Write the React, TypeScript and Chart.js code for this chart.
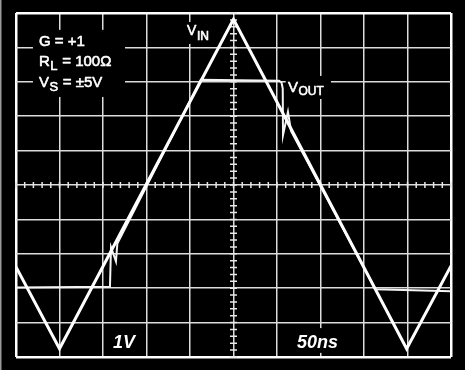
import React, { useEffect, useRef } from "react";
import { Chart, registerables } from "chart.js";

Chart.register(...registerables);

// Axis ranges: 50 ns / div horizontally, 1 V / div vertically
const TIME_MIN = 0;
const TIME_MAX = 500;
const TIME_STEP = 50;
const VOLT_MIN = -5;
const VOLT_MAX = 5;
const VOLT_STEP = 1;

// Input triangle wave
const vinTime = [0, 50, 250, 449, 500];
const vinVolts = [-2.38, -4.76, 4.82, -4.76, -2.35];

// Output (clipped) waveform
const voutTime = [0, 108, 109.2, 114.9, 116.5, 212.4, 302.3, 305.2, 306.6, 306.9, 312.6, 316.1, 413.2, 500];
const voutVolts = [-2.98, -2.96, -1.81, -2.22, -1.7, 3.06, 3.03, 2.98, 2.8, 1.45, 2.13, 1.57, -3.03, -3.09];

const FONT = "'Liberation Sans', Arial, Helvetica, sans-serif";

type Box = { t0: number; t1: number; v0: number; v1: number };
const maskBoxes: Box[] = [
  { t0: 19.5, t1: 125.3, v0: 4.51, v1: 2.56 },
  { t0: 193, t1: 224, v0: 4.74, v1: 4.1 },
  { t0: 310, t1: 362, v0: 3.17, v1: 2.5 },
  { t0: 319.5, t1: 373.6, v0: -4.16, v1: -4.88 },
];

const scopePlugin = {
  id: "scope",
  beforeDraw(chart: any) {
    const { ctx, width, height } = chart;
    ctx.save();
    ctx.fillStyle = "#000";
    ctx.fillRect(0, 0, width, height);
    ctx.fillStyle = "#9a9a9a";
    ctx.fillRect(0, 0, 1.5, height);
    ctx.restore();
  },
  beforeDatasetsDraw(chart: any) {
    const { ctx } = chart;
    const xs = chart.scales.x;
    const ys = chart.scales.y;
    const X = (t: number) => xs.getPixelForValue(t);
    const Y = (v: number) => ys.getPixelForValue(v);
    ctx.save();
    // minor ticks on the centre axes
    ctx.strokeStyle = "#e8e8e8";
    ctx.lineWidth = 1.5;
    const cx = X((TIME_MIN + TIME_MAX) / 2);
    const cy = Y(0);
    ctx.beginPath();
    for (let i = 0; i <= (VOLT_MAX - VOLT_MIN) * 5; i++) {
      const py = Y(VOLT_MIN + i * 0.2);
      ctx.moveTo(cx - 3.5, py);
      ctx.lineTo(cx + 3.5, py);
    }
    for (let i = 0; i <= ((TIME_MAX - TIME_MIN) / TIME_STEP) * 5; i++) {
      const px = X(TIME_MIN + i * (TIME_STEP / 5));
      ctx.moveTo(px, cy - 3);
      ctx.lineTo(px, cy + 3);
    }
    ctx.stroke();

    // masks behind the labels
    ctx.fillStyle = "#000";
    for (const b of maskBoxes) {
      const x0 = X(b.t0), x1 = X(b.t1), y0 = Y(b.v0), y1 = Y(b.v1);
      ctx.fillRect(x0, y0, x1 - x0, y1 - y0);
    }

    ctx.fillStyle = "#fff";
    ctx.strokeStyle = "#fff";
    ctx.lineWidth = 0.6;
    ctx.lineJoin = "round";
    ctx.textBaseline = "alphabetic";
    ctx.textAlign = "left";
    const main = `normal 15px ${FONT}`;
    const sub = `normal 13px ${FONT}`;
    const drawSub = (t: number, v: number, parts: [string, boolean][], mf: string, sf: string, drop: number) => {
      let px = X(t);
      const py = Y(v);
      for (const [txt, isSub] of parts) {
        ctx.font = isSub ? sf : mf;
        const yy = isSub ? py + drop : py;
        ctx.fillText(txt, px, yy);
        ctx.strokeText(txt, px, yy);
        px += ctx.measureText(txt).width + 0.5;
      }
    };
    drawSub(26.4, 4.04, [["G = +1", false]], main, sub, 4);
    drawSub(26.4, 3.46, [["R", false], ["L", true], [" = 100Ω", false]], main, sub, 4);
    drawSub(26.4, 2.86, [["V", false], ["S", true], [" = ±5V", false]], main, sub, 4);
    drawSub(196.6, 4.36, [["V", false], ["IN", true]], `normal 14px ${FONT}`, `normal 12px ${FONT}`, 5);
    drawSub(312.6, 2.7, [["V", false], ["OUT", true]], `normal 15px ${FONT}`, `normal 12px ${FONT}`, 3);
    ctx.font = `italic bold 18px ${FONT}`;
    ctx.fillText("1V", X(111.5), Y(-4.74));
    ctx.fillText("50ns", X(323), Y(-4.74));
    ctx.restore();
  },
};

const edgeColor = (c: any, min: number, max: number) =>
  c.tick && (c.tick.value === min || c.tick.value === max) ? "#ffffff" : "#dcdcdc";
const edgeWidth = (c: any, min: number, max: number) =>
  c.tick && (c.tick.value === min || c.tick.value === max) ? 2.5 : 1.5;

export default function App() {
  const ref = useRef<HTMLCanvasElement | null>(null);
  useEffect(() => {
    if (!ref.current) return;
    const chart = new Chart(ref.current, {
      type: "scatter",
      data: {
        datasets: [
          {
            label: "VIN",
            data: vinTime.map((t, i) => ({ x: t, y: vinVolts[i] })),
            showLine: true,
            borderColor: "#ffffff",
            borderWidth: 3,
            pointRadius: 0,
            tension: 0,
          },
          {
            label: "VOUT",
            data: voutTime.map((t, i) => ({ x: t, y: voutVolts[i] })),
            showLine: true,
            borderColor: "#f4f4f4",
            borderWidth: 2,
            pointRadius: 0,
            tension: 0,
          },
        ],
      },
      options: {
        animation: false,
        responsive: false,
        devicePixelRatio: 1,
        layout: { padding: { left: 16, top: 13, right: 14, bottom: 13 } },
        plugins: { legend: { display: false }, tooltip: { enabled: false }, title: { display: false } },
        scales: {
          x: {
            type: "linear",
            min: TIME_MIN,
            max: TIME_MAX,
            ticks: { display: false, stepSize: TIME_STEP },
            grid: {
              drawTicks: false,
              color: (c: any) => edgeColor(c, TIME_MIN, TIME_MAX),
              lineWidth: (c: any) => edgeWidth(c, TIME_MIN, TIME_MAX),
            },
            border: { display: false },
          },
          y: {
            type: "linear",
            min: VOLT_MIN,
            max: VOLT_MAX,
            ticks: { display: false, stepSize: VOLT_STEP },
            grid: {
              drawTicks: false,
              color: (c: any) => edgeColor(c, VOLT_MIN, VOLT_MAX),
              lineWidth: (c: any) => edgeWidth(c, VOLT_MIN, VOLT_MAX),
            },
            border: { display: false },
          },
        },
      },
      plugins: [scopePlugin],
    });
    return () => chart.destroy();
  }, []);
  return (
    <div style={{ position: "fixed", left: 0, top: 0, width: 465, height: 370, background: "#000" }}>
      <canvas ref={ref} width={465} height={370} style={{ display: "block" }} />
    </div>
  );
}
